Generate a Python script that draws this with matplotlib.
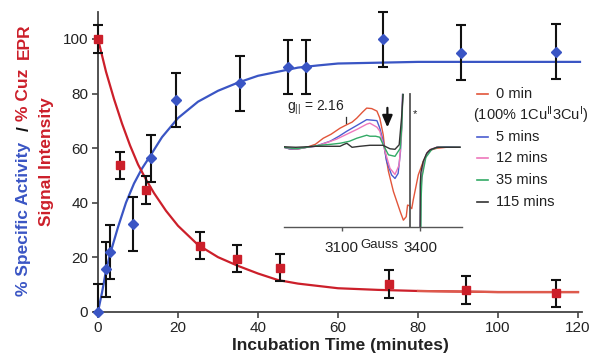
import matplotlib
matplotlib.use('Agg')
import matplotlib.pyplot as plt
from matplotlib.lines import Line2D
import numpy as np

plt.rcParams['font.family'] = ['Liberation Sans', 'DejaVu Sans']
plt.rcParams['mathtext.fontset'] = 'custom'
plt.rcParams['mathtext.rm'] = 'Liberation Sans'
plt.rcParams['mathtext.it'] = 'Liberation Sans:italic'
plt.rcParams['mathtext.bf'] = 'Liberation Sans:bold'

# ---------------- data (main panel) ----------------
act_t = [0, 1.9, 3.1, 8.8, 13.3, 19.6, 35.4, 47.5, 52.1, 71.3, 90.7, 114.6]
act_v = [0, 15.5, 21.9, 32.2, 56.2, 77.6, 83.7, 89.8, 89.8, 99.9, 95.0, 95.4]
act_err_lo = [0, 10, 10, 10, 8.5, 10, 10, 10, 10, 10, 10, 10]
act_err_hi = [10, 10, 10, 10, 8.5, 10, 10, 10, 10, 10, 10, 10]

epr_t = [0, 5.5, 11.9, 25.4, 34.8, 45.4, 72.8, 91.9, 114.6]
epr_v = [100, 53.7, 44.6, 24.2, 19.4, 16.2, 10.2, 8.0, 6.7]
epr_err = [5, 5, 5, 5, 5, 5, 5, 5, 5]

act_fit_t = [0, 1, 2, 3, 5, 7, 9, 11, 13, 16, 20, 25, 30, 35, 40, 45, 50, 55, 60, 70, 80, 100, 120.5]
act_fit_v = [0, 7, 15, 21, 31, 40, 47, 52.5, 57, 64, 71, 77, 81, 84, 86.5, 88, 89.5, 90.3, 91, 91.3, 91.6, 91.6, 91.6]

epr_fit_t = [0, 2, 4, 6, 8, 10, 12, 14, 17, 20, 25, 30, 35, 40, 45, 50, 60, 70, 80, 90, 100, 120]
epr_fit_v = [100, 88, 78, 69, 61, 54, 48.5, 43.5, 37, 31.5, 24.5, 20, 16.8, 14, 11.6, 10.3, 8.6, 8.0, 7.6, 7.4, 7.2, 7.2]

x_ticks = [0, 20, 40, 60, 80, 100, 120]
y_ticks = [0, 20, 40, 60, 80, 100]

# ---------------- data (EPR inset) ----------------
nan = float('nan')
spec_0_x = [2880, 2900, 2925, 2967, 3000, 3030, 3060, 3094, 3120, 3140, 3158, 3180, 3196, 3215, 3235, 3246,
            3259, 3266, 3279, 3298, 3324, 3336, 3347, 3352, 3358, 3368, 3374, 3393, 3412, 3431, 3450, 3464, 3500, 3552]
spec_0_y = [0, -1.5, -2, 0, 3, 9, 13, 19, 22.5, 25, 29, 35, 39, 38.5, 36, 29,
            12.5, -4, -24, -44, -64, -72.5, -69, -57.5, -58, -61, -52, -27.5, -14, -4, -2, -1, 0, 0]

spec_5_x = [2880, 2900, 2925, 2967, 3000, 3056, 3090, 3120, 3160, 3196, 3235, 3246, 3259, 3272, 3291, 3304,
            3316, 3325, 3329, 3333, 3333, 3401, 3402, 3405, 3414, 3426, 3438, 3464, 3500, 3552]
spec_5_y = [0, -1.5, -2, 0, 1, 6, 11, 16, 22, 27.5, 26.5, 19, 6, -14, -27.5, -31,
            -26, -4, 20, 52.5, nan, -79, -50, -32, -15, -6, -3, 0, 0.5, 0]

spec_12_x = [2880, 2925, 2967, 3000, 3036, 3080, 3120, 3160, 3196, 3208, 3235, 3246, 3266, 3285, 3304, 3320,
             3329, 3333, 3333, 3401, 3403, 3407, 3416, 3428, 3440, 3464, 3552]
spec_12_y = [0, -2, 0, 1, 4, 8, 13, 18, 23, 24, 20, 16, -4, -21, -27, -17.5,
             12.5, 52.5, nan, -79, -45, -28, -13, -5, -2, 0, 0]

spec_35_x = [2880, 2925, 2967, 3017, 3060, 3094, 3130, 3158, 3196, 3208, 3230, 3246, 3259, 3279, 3304, 3324,
             3330, 3334, 3334, 3403, 3404, 3407, 3422, 3445, 3470, 3552]
spec_35_y = [0, -1.5, 0, 2, 3, 4, 6, 9, 12, 11, 11, 10, 2.5, -7.5, -9, -1,
             20, 52.5, nan, -79, -50, -30, -10, -2, 0, 0]

spec_115_x = [2880, 2925, 2967, 3000, 3060, 3094, 3110, 3120, 3130, 3140, 3170, 3208, 3258, 3285, 3304, 3320,
              3329, 3335, 3335, 3400, 3400.5, 3403, 3412, 3425, 3438, 3464, 3552]
spec_115_y = [0.5, 0, 0.5, 1, 1, 1, 3, 4, 2, 0, 1, 2, 2, -1.5, -2, 2.5,
              29, 52.5, nan, -79, -37, -25, -14, -6, -2.5, 0, 0]

spec_labels = ['0 min', '5 mins', '12 mins', '35 mins', '115 mins']
spec_colors = ['#e2553a', '#4a5ccf', '#ee77bb', '#33aa66', '#333333']
inset_ticks = [3100, 3400]

# ---------------- figure ----------------
W, H = 592, 362
fig = plt.figure(figsize=(W / 100, H / 100), dpi=100)

def fx(px):
    return px / W

def fy(py):
    return 1 - py / H

blue = '#3a55c4'
red = '#cc1f2a'
red_light = '#de5a4c'

ax = fig.add_axes([fx(98), fy(311.7), (582 - 98) / W, 300 / H])
ax.set_xlim(0, 121)
ax.set_ylim(0, 110)
for s in ['top', 'right']:
    ax.spines[s].set_visible(False)
for s in ['left', 'bottom']:
    ax.spines[s].set_color('#444444')
    ax.spines[s].set_linewidth(1.3)
ax.set_xticks(x_ticks)
ax.set_yticks(y_ticks)
ax.tick_params(axis='both', direction='out', length=4, width=1.2, color='#444444',
               labelsize=11, labelcolor='#222222', pad=3)
ax.patch.set_visible(False)

ax.plot(act_fit_t, act_fit_v, color=blue, lw=1.6, zorder=2, clip_on=False)
ax.plot(epr_fit_t, epr_fit_v, color=red, lw=1.6, zorder=2, clip_on=False)
tail = [(t, v) for t, v in zip(epr_fit_t, epr_fit_v) if t >= 80]
ax.plot([p[0] for p in tail], [p[1] for p in tail], color=red_light, lw=1.6, zorder=2.1, clip_on=False)

ax.errorbar(act_t, act_v, yerr=[act_err_lo, act_err_hi], fmt='none', ecolor='#111111',
            elinewidth=1.5, capsize=3.5, capthick=1.5, zorder=3, clip_on=False)
ax.errorbar(epr_t, epr_v, yerr=epr_err, fmt='none', ecolor='#111111',
            elinewidth=1.5, capsize=3.5, capthick=1.5, zorder=3, clip_on=False)
ax.plot(act_t, act_v, 'D', color=blue, ms=5.5, mec=blue, zorder=4, clip_on=False)
ax.plot(epr_t, epr_v, 's', color=red, ms=5.5, mec=red, zorder=4, clip_on=False)

ax.set_xlabel('Incubation Time (minutes)', fontsize=12.5, fontweight='bold', color='#222222', labelpad=2)

# y label (multi-coloured, two lines)
fig.text(fx(24), fy(296), '% Specific Activity', rotation=90, ha='center', va='bottom',
         fontsize=12.5, fontweight='bold', color=blue)
fig.text(fx(24), fy(129), '/', rotation=90, ha='center', va='center',
         fontsize=12.5, fontweight='bold', color='#111111')
fig.text(fx(24), fy(121), '% Cuz', rotation=90, ha='center', va='bottom',
         fontsize=12.5, fontweight='bold', color=red)
fig.text(fx(24), fy(23), 'EPR', rotation=90, ha='center', va='top',
         fontsize=12.5, fontweight='bold', color=red)
fig.text(fx(47), fy(226), 'Signal Intensity', rotation=90, ha='center', va='bottom',
         fontsize=12.5, fontweight='bold', color=red)

# ---------------- inset ----------------
axi = fig.add_axes([fx(284), fy(226.7), (462 - 284) / W, (226.7 - 92) / H])
axi.set_xlim(2880, 3560)
axi.set_ylim(-79, 55)
axi.patch.set_visible(False)
for s in ['top', 'right', 'left']:
    axi.spines[s].set_visible(False)
axi.spines['bottom'].set_color('#555555')
axi.spines['bottom'].set_linewidth(1.0)
axi.set_yticks([])
axi.set_xticks(inset_ticks)
axi.tick_params(axis='x', direction='out', length=3, width=1.0, color='#555555',
                labelsize=11, labelcolor='#222222', pad=7)

specs = [(spec_0_x, spec_0_y), (spec_5_x, spec_5_y), (spec_12_x, spec_12_y),
         (spec_35_x, spec_35_y), (spec_115_x, spec_115_y)]
for (sx, sy), c in zip(specs, spec_colors):
    axi.plot(sx, sy, color=c, lw=1.0)

# vertical line of the radical (*) signal
axi.plot([3361, 3361], [53, -79], color='#555555', lw=1.3, clip_on=False)
axi.text(3380, 33, '*', fontsize=8, color='#222222', ha='center', va='center')
axi.annotate('', xy=(3275, 17), xytext=(3275, 42),
             arrowprops=dict(arrowstyle='-|>,head_width=0.3,head_length=0.7', color='#111111', lw=1.6))
axi.plot([3115, 3115], [24, 30.5], color='#333333', lw=0.9)
axi.text(3000, 39.5, 'g$_{||}$ = 2.16', fontsize=10, color='#222222', ha='center', va='center')
axi.text(3245, -97, 'Gauss', fontsize=9.5, color='#222222', ha='center', va='center', clip_on=False)

# legend of the inset
rows = [94, 136.7, 158.3, 180, 201.7]
for r, c, lab in zip(rows, spec_colors, spec_labels):
    fig.add_artist(Line2D([fx(476.7), fx(488)], [fy(r), fy(r)], color=c, lw=1.2,
                          transform=fig.transFigure))
    fig.text(fx(496), fy(r), lab, fontsize=10.5, color='#222222', ha='left', va='center')
fig.text(fx(473), fy(115), '(100% 1Cu$^{\\rm II}$3Cu$^{\\rm I}$)', fontsize=10.5,
         color='#222222', ha='left', va='center')

fig.savefig('out.png', dpi=100)
